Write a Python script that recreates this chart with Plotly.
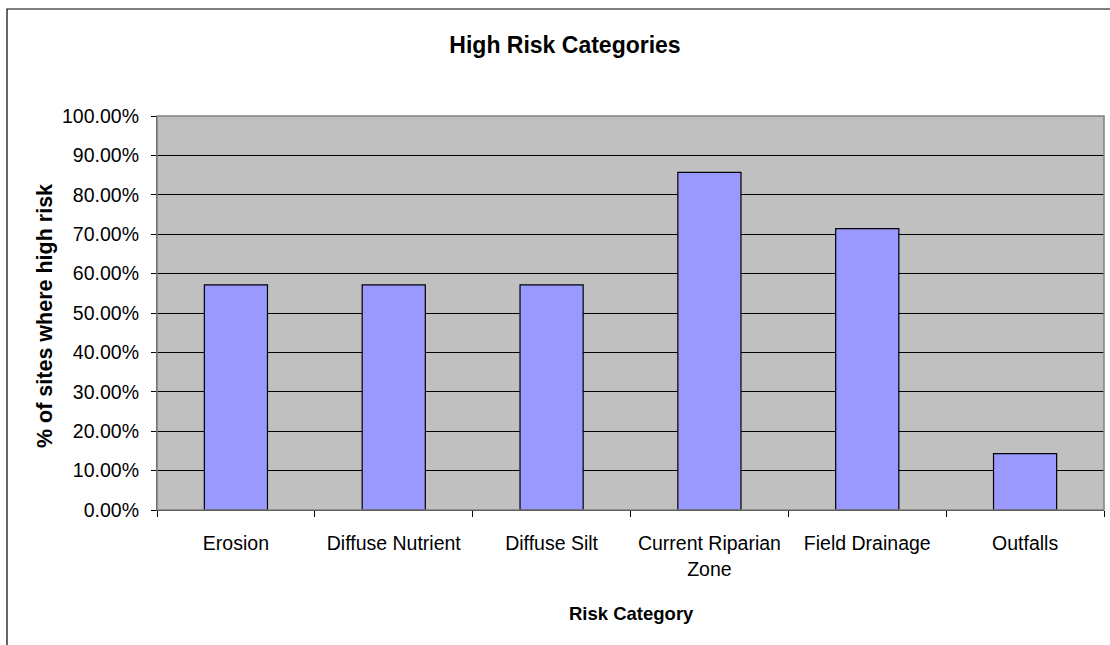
import plotly.graph_objects as go

categories = ["Erosion", "Diffuse Nutrient", "Diffuse Silt", "Current Riparian<br>Zone", "Field Drainage", "Outfalls"]
values = [0.5714, 0.5714, 0.5714, 0.8571, 0.7143, 0.1429]
y_ticks = [0, 0.1, 0.2, 0.3, 0.4, 0.5, 0.6, 0.7, 0.8, 0.9, 1.0]

FONT = "Liberation Sans, Arial, sans-serif"

fig = go.Figure(go.Bar(
    x=categories, y=values, width=0.4,
    marker=dict(color="#9999FF", line=dict(color="#000000", width=1.2)),
))

# plot area geometry (px)
L, R, T, B = 157, 1104, 116, 510
W, H = 1110, 645
pw, ph = R - L, B - T

fig.update_layout(
    width=W, height=H,
    margin=dict(l=L, r=W - R, t=T, b=H - B, pad=0),
    paper_bgcolor="white", plot_bgcolor="#C0C0C0",
    font=dict(family=FONT, size=19.5, color="black"),
    title=dict(text="<b>High Risk Categories</b>", x=565 / W, xanchor="center",
               y=1 - 45 / H, yanchor="middle", font=dict(size=23)),
    showlegend=False,
    xaxis=dict(
        showgrid=False, ticks="outside", ticklen=6, tickcolor="black",
        tickson="boundaries", showline=True, linecolor="black", linewidth=1,
        tickfont=dict(size=19.5), ticklabelstandoff=16,
    ),
    yaxis=dict(
        range=[0, 1], tickvals=y_ticks, tickformat=".2%",
        showgrid=True, gridcolor="black", gridwidth=1,
        ticks="outside", ticklen=5, tickcolor="black",
        showline=True, linecolor="#404040", linewidth=1.2,
        tickfont=dict(size=19.5), zeroline=False, ticklabelstandoff=8,
    ),
    annotations=[
        dict(text="<b>% of sites where high risk</b>", textangle=-90,
             xref="paper", yref="paper", x=(45 - L) / pw, y=(B - 316) / ph,
             xanchor="center", yanchor="middle", showarrow=False,
             font=dict(size=21.5)),
        dict(text="<b>Risk Category</b>",
             xref="paper", yref="paper", x=(631 - L) / pw, y=(B - 613) / ph,
             xanchor="center", yanchor="middle", showarrow=False,
             font=dict(size=18.5)),
    ],
    shapes=[
        dict(type="rect", xref="paper", yref="paper", x0=0, x1=1, y0=0, y1=1,
             line=dict(color="#808080", width=1.5), layer="above"),
        dict(type="rect", xref="paper", yref="paper",
             x0=(7 - L) / pw, x1=(W + 10 - L) / pw,
             y0=(B - (H + 10)) / ph, y1=(B - 9) / ph,
             line=dict(color="black", width=1.2), layer="above"),
    ],
)

fig.write_html("out.html", config={"displayModeBar": False},
               post_script="document.body.style.margin='0';document.body.style.overflow='hidden';")
